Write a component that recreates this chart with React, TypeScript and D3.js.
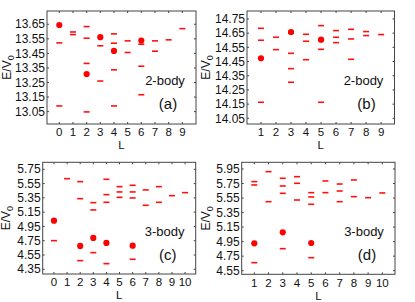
import * as d3 from 'd3';
import React from 'react';

// [L, E/V0] pairs
const levelsA = [
  [0, 13.522], [0, 13.089], [1, 13.597], [1, 13.579],
  [2, 13.634], [2, 13.554], [2, 13.381], [2, 13.048],
  [3, 13.502], [3, 13.26], [4, 13.584], [4, 13.52], [4, 13.337], [4, 13.089],
  [5, 13.536], [5, 13.456], [6, 13.513], [6, 13.362], [6, 13.166],
  [7, 13.536], [7, 13.465], [8, 13.543], [9, 13.62]
];
const dotsA = [[0, 13.645], [2, 13.308], [3, 13.561], [4, 13.467], [6, 13.538]];

const levelsB = [
  [1, 14.684], [1, 14.6], [1, 14.163], [2, 14.621], [2, 14.534],
  [3, 14.65], [3, 14.508], [3, 14.4], [3, 14.304],
  [4, 14.642], [4, 14.593], [4, 14.463],
  [5, 14.703], [5, 14.598], [5, 14.536], [5, 14.163],
  [6, 14.668], [6, 14.621], [6, 14.583],
  [7, 14.677], [7, 14.609], [7, 14.466], [8, 14.661], [8, 14.633], [9, 14.64]
];
const dotsB = [[1, 14.473], [3, 14.658], [5, 14.604]];

const levelsC = [
  [0, 4.751], [1, 5.619], [2, 5.577], [2, 5.339], [2, 4.471],
  [3, 5.283], [3, 5.181], [3, 4.583],
  [4, 5.61], [4, 5.395], [4, 5.288], [4, 4.429],
  [5, 5.507], [5, 5.433], [5, 5.358],
  [6, 5.526], [6, 5.433], [6, 5.349], [6, 4.49],
  [7, 5.461], [7, 5.246], [8, 5.507], [8, 5.288], [9, 5.381], [10, 5.423]
];
const dotsC = [[0, 5.031], [2, 4.677], [3, 4.789], [4, 4.719], [6, 4.681]];

const levelsD = [
  [1, 5.776], [1, 5.73], [1, 4.66], [2, 5.913], [2, 5.5],
  [3, 5.822], [3, 5.716], [3, 5.615], [3, 4.853],
  [4, 5.844], [4, 5.753], [4, 5.523],
  [5, 5.624], [5, 5.565], [5, 5.464], [5, 4.729],
  [6, 5.785], [6, 5.624], [7, 5.743], [7, 5.647], [7, 5.5],
  [8, 5.799], [8, 5.569], [9, 5.555], [10, 5.62]
];
const dotsD = [[1, 4.927], [3, 5.078], [5, 4.931]];

const ticksA = [13.05, 13.15, 13.25, 13.35, 13.45, 13.55, 13.65];
const ticksB = [14.05, 14.15, 14.25, 14.35, 14.45, 14.55, 14.65, 14.75];
const ticksC = [4.35, 4.55, 4.75, 4.95, 5.15, 5.35, 5.55, 5.75];
const ticksD = [4.55, 4.75, 4.95, 5.15, 5.35, 5.55, 5.75, 5.95];

const lA = d3.range(0, 10);
const lB = d3.range(1, 10);
const lC = d3.range(0, 11);
const lD = d3.range(1, 11);

const panels = [
  { levels: levelsA, dots: dotsA, yTicks: ticksA, xTicks: lA, tag: '(a)', body: '2-body',
    box: [47, 11, 196, 124], xDom: [-0.9, 10], yDom: [12.965, 13.741], ylx: 7 },
  { levels: levelsB, dots: dotsB, yTicks: ticksB, xTicks: lB, tag: '(b)', body: '2-body',
    box: [247, 11, 394.5, 124], xDom: [0.07, 9.89], yDom: [14.01, 14.806], ylx: 206 },
  { levels: levelsC, dots: dotsC, yTicks: ticksC, xTicks: lC, tag: '(c)', body: '3-body',
    box: [42.7, 162.3, 195.7, 274], xDom: [-0.86, 10.81], yDom: [4.284, 5.848], ylx: 6 },
  { levels: levelsD, dots: dotsD, yTicks: ticksD, xTicks: lD, tag: '(d)', body: '3-body',
    box: [241.7, 162.3, 395, 274.3], xDom: [0.114, 10.89], yDom: [4.5, 6.042], ylx: 206 }
];

const font = 'Liberation Sans, Arial, Helvetica, sans-serif';
const axisColor = '#444';

function Panel({ p }) {
  const [x0, y0, x1, y1] = p.box;
  const x = d3.scaleLinear().domain(p.xDom).range([x0, x1]);
  const y = d3.scaleLinear().domain(p.yDom).range([y1, y0]);
  const fmt = d3.format('.2f');
  const cy = (y0 + y1) / 2;
  return (
    <g>
      {p.levels.map((d, i) => (
        <line key={'l' + i} x1={x(d[0]) - 3} x2={x(d[0]) + 3} y1={y(d[1])} y2={y(d[1])}
          stroke="#ff1010" strokeWidth={1.6} />
      ))}
      {p.dots.map((d, i) => (
        <circle key={'d' + i} cx={x(d[0])} cy={y(d[1])} r={3.1} fill="#ff0000" />
      ))}
      <rect x={x0} y={y0} width={x1 - x0} height={y1 - y0} fill="none" stroke={axisColor} strokeWidth={1} />
      {p.xTicks.map(t => (
        <g key={'xt' + t}>
          <line x1={x(t)} x2={x(t)} y1={y1} y2={y1 - 2} stroke={axisColor} />
          <line x1={x(t)} x2={x(t)} y1={y0} y2={y0 + 2} stroke={axisColor} />
          <text x={x(t)} y={y1 + 12.2} textAnchor="middle" fontSize={11.5} fontFamily={font} fill="#111">{t}</text>
        </g>
      ))}
      {p.yTicks.map(t => (
        <g key={'yt' + t}>
          <line x1={x0} x2={x0 + 2} y1={y(t)} y2={y(t)} stroke={axisColor} />
          <line x1={x1} x2={x1 - 2} y1={y(t)} y2={y(t)} stroke={axisColor} />
          <text x={x0 - 2} y={y(t)} dy="0.35em" textAnchor="end" fontSize={12} fontFamily={font} fill="#111">{fmt(t)}</text>
        </g>
      ))}
      <text x={(x0 + x1) / 2} y={y1 + 25.2} textAnchor="middle" fontSize={11.5} fontFamily={font} fill="#111">L</text>
      <text transform={`translate(${p.ylx},${cy}) rotate(-90)`} textAnchor="middle" dy="0.35em"
        fontSize={12} fontFamily={font} fill="#111">
        E/V<tspan fontSize={9} dy="3">0</tspan>
      </text>
      <text x={x1 - 31} y={y0 + 74} textAnchor="middle" fontSize={13} fontFamily={font} fill="#111">{p.body}</text>
      <text x={x1 - 28} y={y0 + 98} textAnchor="middle" fontSize={15} fontFamily={font} fill="#111">{p.tag}</text>
    </g>
  );
}

export default function App() {
  return (
    <svg width={415} height={302} style={{ position: 'absolute', left: 0, top: 0, background: '#fff' }}>
      {panels.map((p, i) => <Panel key={i} p={p} />)}
    </svg>
  );
}
